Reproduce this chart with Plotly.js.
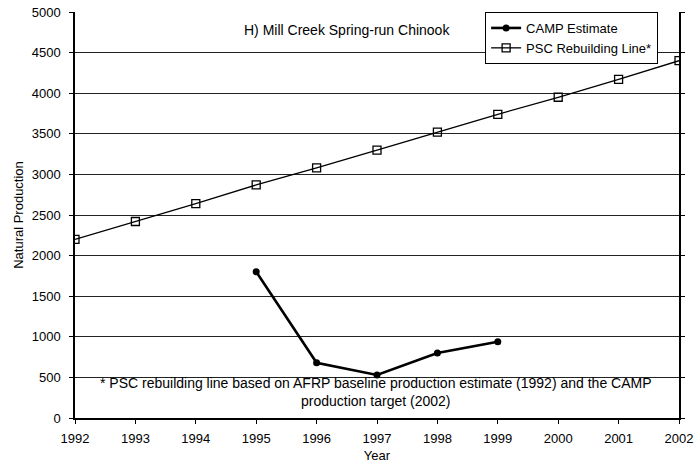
<!DOCTYPE html>
<html><head><meta charset="utf-8">
<script src="https://cdn.plot.ly/plotly-3.0.1.min.js"></script>
<style>body{margin:0;background:#fff}#c{width:696px;height:465px}</style>
</head><body><div id="c"></div>
<script>
const years = [1992,1993,1994,1995,1996,1997,1998,1999,2000,2001,2002];
const pscValues = [2200,2420,2640,2870,3080,3300,3520,3740,3950,4170,4400];
const campYears = [1995,1996,1997,1998,1999];
const campValues = [1800,680,530,800,940];
const yTicks = [0,500,1000,1500,2000,2500,3000,3500,4000,4500,5000];

const font = {family:'Liberation Sans, Arial, sans-serif', size:13, color:'#000'};
const traces = [
  {x:campYears, y:campValues, name:'CAMP Estimate', mode:'lines+markers',
   line:{color:'#000', width:2.6}, marker:{symbol:'circle', size:7, color:'#000'}},
  {x:years, y:pscValues, name:'PSC Rebuilding Line*', mode:'lines+markers',
   line:{color:'#000', width:1.3}, marker:{symbol:'square-open', size:8, color:'#000', line:{width:1.3}}}
];
const layout = {
  width:696, height:465, margin:{l:75, r:17, t:12, b:47},
  paper_bgcolor:'#fff', plot_bgcolor:'#fff', font:font, showlegend:true,
  xaxis:{range:[1992,2002], tickvals:years, ticktext:years.map(String), showgrid:false, zeroline:false,
    showline:true, linecolor:'#000', linewidth:1.5, ticks:'outside', ticklen:4, tickcolor:'#000',
    ticklabelstandoff:4,
    title:{text:'Year', font:{size:13}, standoff:6}, tickfont:{size:13}},
  yaxis:{range:[0,5000], tickvals:yTicks, showgrid:true, gridcolor:'#222', gridwidth:1, zeroline:false,
    showline:true, linecolor:'#000', linewidth:1.5, ticks:'outside', ticklen:4, tickcolor:'#000', mirror:'ticks',
    ticklabelstandoff:6,
    title:{text:'Natural Production', font:{size:13}, standoff:5}, tickfont:{size:13}},
  legend:{x:0.679, y:1.0, xanchor:'left', yanchor:'top', bordercolor:'#000', borderwidth:1, bgcolor:'#fff',
    font:{size:13}, tracegroupgap:0, itemwidth:30},
  annotations:[
    {text:'H) Mill Creek Spring-run Chinook', xref:'paper', yref:'paper', x:0.45, y:0.956, showarrow:false,
      xanchor:'center', yanchor:'middle', font:{size:14}},
    {text:'* PSC rebuilding line based on AFRP baseline production estimate (1992) and the CAMP<br>production target (2002)',
      xref:'paper', yref:'paper', x:0.498, y:0.064, showarrow:false, xanchor:'center', yanchor:'middle', font:{size:14}}
  ]
};
Plotly.newPlot('c', traces, layout, {displayModeBar:false});
</script></body></html>
